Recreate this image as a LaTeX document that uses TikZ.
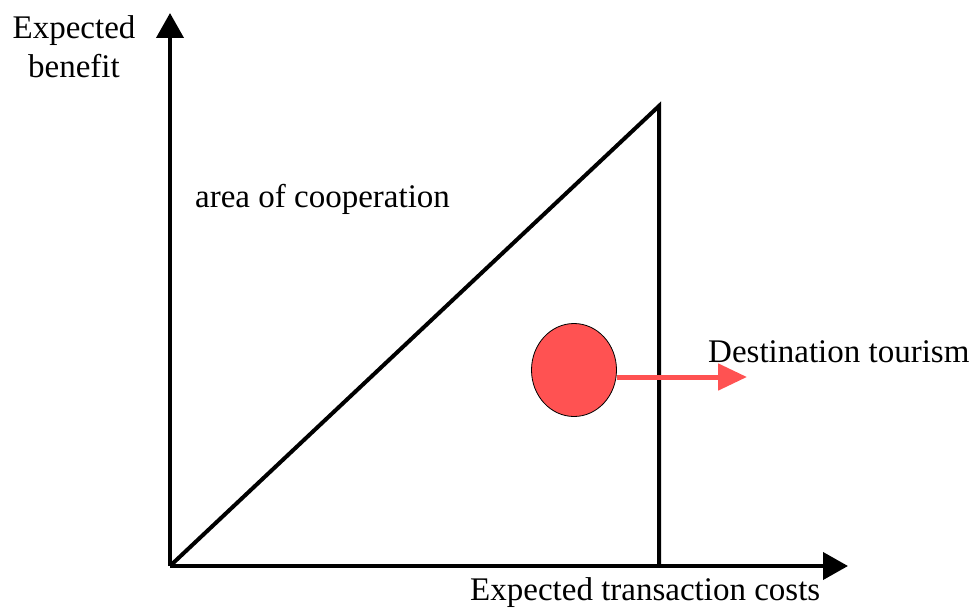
\documentclass[tikz,border=0pt]{standalone}
\usepackage{fontspec}
\setmainfont{Liberation Serif}
\usetikzlibrary{arrows.meta,shapes.geometric}
\definecolor{dotred}{HTML}{FF5252}
\tikzset{
  axis/.style={line width=4pt,-{Triangle[length=25pt,width=27pt]}},
  edge/.style={line width=4pt,line join=miter},
  lbl/.style={font=\fontsize{33}{39}\selectfont,inner sep=0pt},
  dot/.style={ellipse,draw=black,line width=0.8pt,fill=dotred,minimum width=85pt,minimum height=93pt,inner sep=0pt},
  redarrow/.style={dotred,line width=5pt,-{Triangle[length=29pt,width=26pt]}}
}
\begin{document}
\begin{tikzpicture}[x=1pt,y=-1pt]
\useasboundingbox (0,0) rectangle (976,607);
\coordinate (O) at (170,566);
\coordinate (ytip) at (170,13);
\coordinate (xtip) at (848,566);
\coordinate (A) at (659,106);
\coordinate (B) at (659,566);
\draw[axis] (O) -- (ytip);
\draw[axis] (O) -- (xtip);
\draw[edge] (O) -- (A) -- (B);
\node[dot] (c) at (574,370) {};
\coordinate (t) at (747,377);
\draw[redarrow] (c.east |- t) -- (t);
\node[lbl,anchor=north,align=center] (yl) at (74,15) {Expected\\benefit};
\node[lbl,anchor=base west] (xl) at (470,600) {Expected transaction costs};
\node[lbl,anchor=base west] (area) at (195,207) {area of cooperation};
\node[lbl,anchor=base west] (dest) at (708,362) {Destination tourism};
\end{tikzpicture}
\end{document}
